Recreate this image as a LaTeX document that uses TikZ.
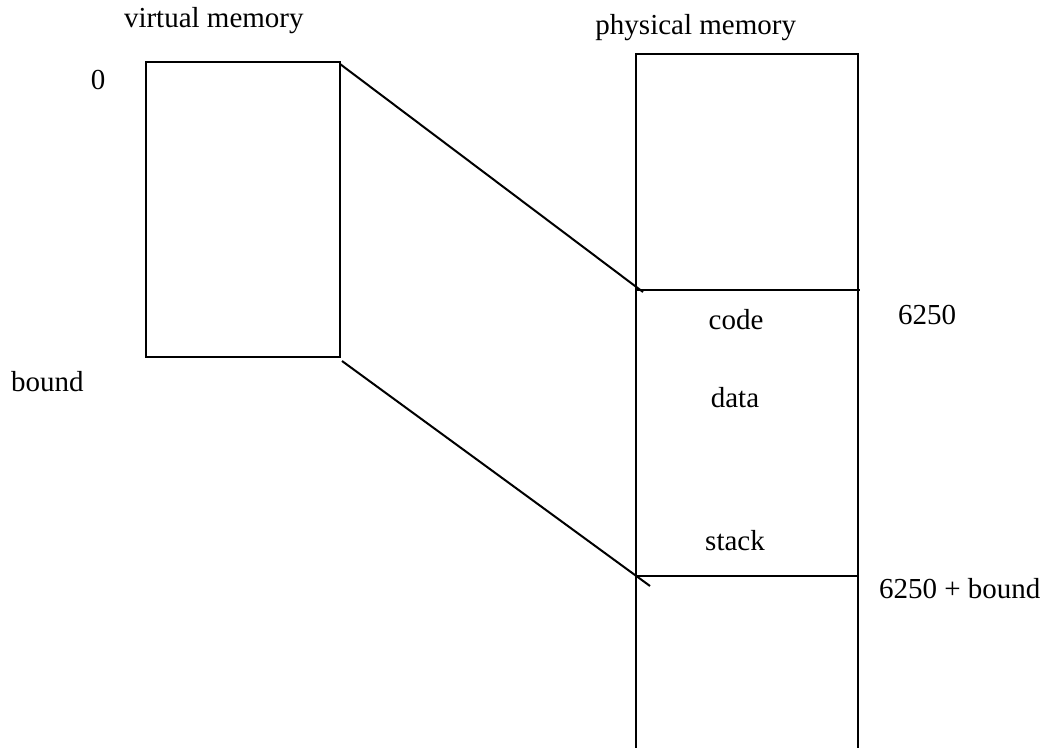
\documentclass[tikz,border=0pt]{standalone}
\usepackage{fontspec}
\setmainfont{Liberation Serif}
\usetikzlibrary{positioning}

\begin{document}
\begin{tikzpicture}[x=0.5pt,y=-0.5pt,line width=1pt,
  mytext/.style={inner sep=0pt,font=\fontsize{14.5}{17}\selectfont}]
   \useasboundingbox (0,0) rectangle (1059,748);
   % virtual memory
   \coordinate (vtop) at (146,62);
   \coordinate (vbot) at (340,357);
   \draw (vtop) rectangle (vbot);
   \coordinate (vtr) at (340,64);
   \coordinate (vbr) at (342,361);
   % physical memory
   \coordinate (ptl) at (636,54);
   \coordinate (ptr) at (858,54);
   \draw (636,748) -- (ptl) -- (ptr) -- (858,748);
   \coordinate (pcode) at (636,290);
   \coordinate (pstack) at (636,576);
   \draw (pcode) -- (860,290);
   \draw (pstack) -- (858,576);
   \coordinate (ma) at (643,292);
   \coordinate (mb) at (650,586);
   \draw (vtr) -- (ma);
   \draw (vbr) -- (mb);
   % labels
   \node[mytext,anchor=base west] (vname) at (123,28) {virtual memory};
   \node[mytext,anchor=base east] (pname) at (797,35) {physical memory};
   \node[mytext,anchor=base] (zero) at (98,90) {0};
   \node[mytext,anchor=base west] (bnd) at (10,392) {bound};
   \node[mytext,anchor=base] (code) at (736,329) {code};
   \node[mytext,anchor=base] (data) at (735,408) {data};
   \node[mytext,anchor=base] (stack) at (735,550) {stack};
   \node[mytext,anchor=base] (base) at (927,325) {6250};
   \node[mytext,anchor=base west] (limit) at (878,598) {6250 + bound};
\end{tikzpicture}
\end{document}
